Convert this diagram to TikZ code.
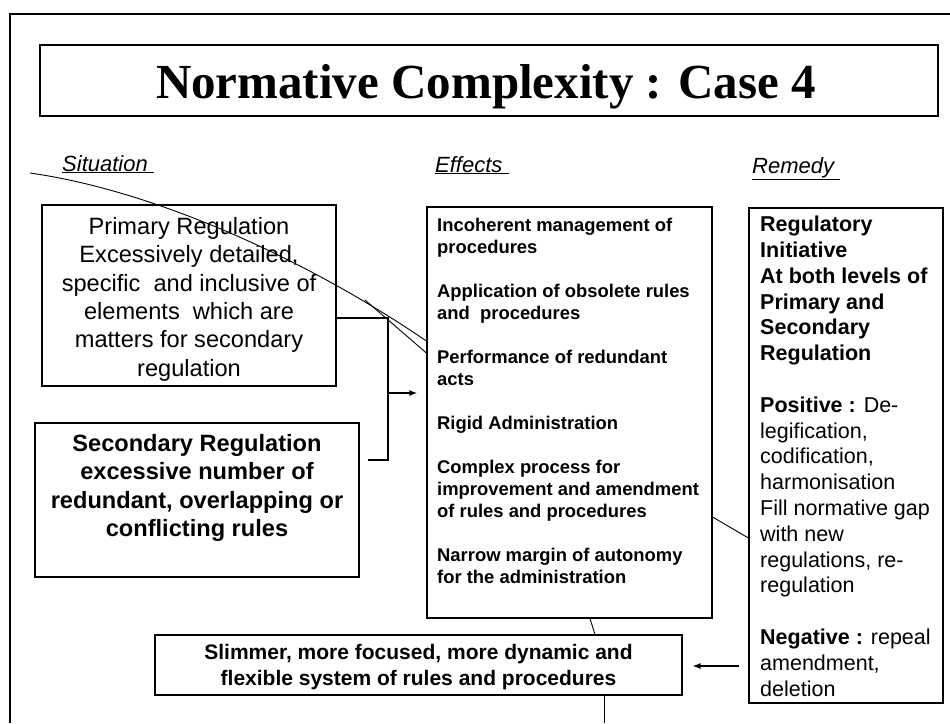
\documentclass[tikz,border=0pt]{standalone}
\usepackage{fontspec}
\setmainfont{Liberation Sans}
\newfontfamily\titlefont{Liberation Serif}
\usetikzlibrary{arrows.meta}
\begin{document}
\begin{tikzpicture}[x=1pt,y=-1pt,
  box/.style={draw,line width=1.1pt,inner sep=0pt},
  txt/.style={inner sep=0pt,anchor=north},
  head/.style={inner sep=0pt,anchor=base west,font=\fontsize{22}{26}\selectfont\itshape},
  link/.style={line width=1.8pt},
  thinlink/.style={line width=0.9pt},
  tip/.style={-{Latex[length=8pt,width=6pt]}}
]
\useasboundingbox (0,0) rectangle (950,723);
% page frame (top and left edges)
\draw[line width=1.4pt] (950,14) -- (10,14) -- (10,723);

% title
\node[box,minimum width=898pt,minimum height=71pt] (title) at (489,80.5) {};
\node[anchor=base,inner sep=0pt,font=\titlefont\fontsize{49}{55}\selectfont\bfseries] (titletext) at (486,98) {Normative Complexity : Case 4};

% column headings
\node[head] (hsit) at (62,171) {\underline{Situation\ }};
\node[head] (heff) at (435,172) {\underline{Effects\ }};
\node[head] (hrem) at (752,173) {\underline{Remedy\ }};

% situation boxes
\node[box,minimum width=294pt,minimum height=181pt] (prim) at (189,295.5) {};
\node[txt,align=center,font=\fontsize{23.6}{28.4}\selectfont] (primtext) at (189,217)
  {Primary Regulation\\ Excessively detailed,\\ specific\ \ and inclusive of\\ elements\ \ which are\\ matters for secondary\\ regulation};

\node[box,minimum width=324pt,minimum height=154pt] (sec) at (197,500) {};
\node[txt,align=center,font=\fontsize{23.6}{28.4}\selectfont\bfseries] (sectext) at (197,434)
  {Secondary Regulation\\ excessive number of\\ redundant, overlapping or\\ conflicting rules};

% effects box
\node[box,minimum width=285pt,minimum height=411pt] (eff) at (569.5,412.5) {};
\node[txt,anchor=north west,align=left,font=\fontsize{18.4}{22}\selectfont\bfseries] (efftext) at (437,218)
  {Incoherent management of\\ procedures\\[22pt]
   Application of obsolete rules\\ and\ \ procedures\\[22pt]
   Performance of redundant\\ acts\\[22pt]
   Rigid Administration\\[22pt]
   Complex process for\\ improvement and amendment\\ of rules and procedures\\[22pt]
   Narrow margin of autonomy\\ for the administration};

% remedy box
\node[box,minimum width=194pt,minimum height=495pt] (rem) at (846,455.5) {};
\node[txt,anchor=north west,align=left,font=\fontsize{21.5}{25.8}\selectfont] (remtext) at (760,216)
  {\textbf{Regulatory}\\ \textbf{Initiative}\\ \textbf{At both levels of}\\ \textbf{Primary and}\\ \textbf{Secondary}\\ \textbf{Regulation}\\[25.8pt]
   \textbf{Positive :} De-\\ legification,\\ codification,\\ harmonisation\\ Fill normative gap\\ with new\\ regulations, re-\\ regulation\\[25.8pt]
   \textbf{Negative :} repeal\\ amendment,\\ deletion};

% outcome box
\node[box,minimum width=527pt,minimum height=60pt] (slim) at (418.5,665) {};
\node[txt,align=center,font=\fontsize{21}{26}\selectfont\bfseries] (slimtext) at (418.5,644)
  {Slimmer, more focused, more dynamic and\\ flexible system of rules and procedures};

% junction joining the two situation boxes
\coordinate (jtop) at (388,318);
\coordinate (jbot) at (388,460);
\coordinate (jmid) at (388,393);
\draw[link] (prim.east |- jtop) -- (jtop) -- (jbot) -- ([xshift=8pt]sec.east |- jbot);
\draw[link,tip] (jmid) -- ([xshift=-9pt]eff.west |- jmid);

% sweeping lines into the effects box
\coordinate (cstart) at (30,173);
\coordinate (c2) at (365,300);
\draw[thinlink] (cstart) .. controls (150,190) and (300,255) .. (eff.west |- 0,341);
\draw[thinlink] (c2) -- (eff.west |- 0,353);

% effects to remedy
\draw[thinlink] (eff.east |- 0,517) -- (rem.west |- 0,538);

% effects down to outcome, and outcome onward
\draw[thinlink] (590,0 |- eff.south) -- (595,0 |- slim.north);
\coordinate (slimout) at (604,723);
\draw[thinlink] (slimout |- slim.south) -- (slimout);

% remedy to outcome
\coordinate (rarr) at (0,666);
\draw[line width=1.3pt,tip] ([xshift=-9pt]rem.west |- rarr) -- ([xshift=10pt]slim.east |- rarr);
\end{tikzpicture}
\end{document}
